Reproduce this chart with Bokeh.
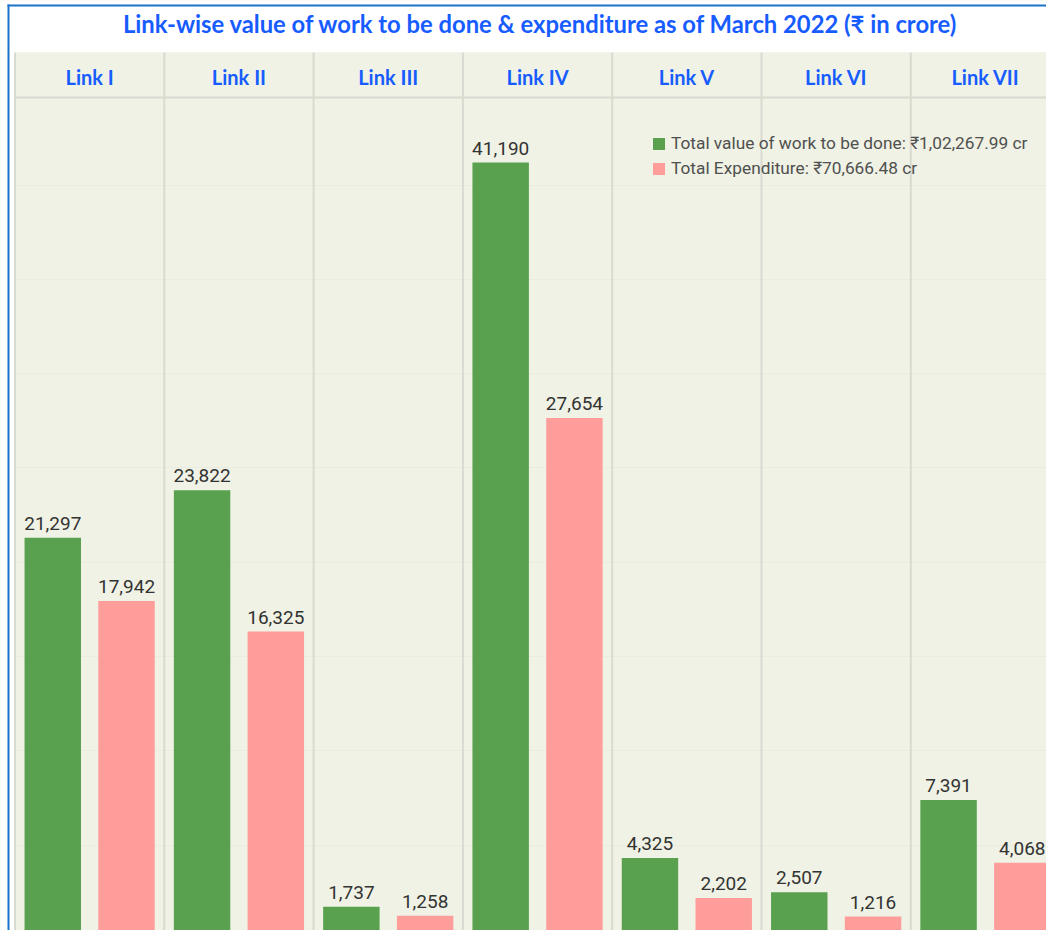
from bokeh.plotting import figure
from bokeh.models import Range1d, ColumnDataSource, Grid, SingleIntervalTicker, Legend, LegendItem
from bokeh.core.properties import value
from bokeh.embed import file_html
from bokeh.resources import INLINE

# ---------------- data ----------------
links = ["Link I", "Link II", "Link III", "Link IV", "Link V", "Link VI", "Link VII"]
work_value = [21297, 23822, 1737, 41190, 4325, 2507, 7391]
expenditure = [17942, 16325, 1258, 27654, 2202, 1216, 4068]
series_labels = ["Total value of work to be done: \u20b91,02,267.99 cr",
                 "Total Expenditure: \u20b970,666.48 cr"]
title_text = "Link-wise value of work to be done & expenditure as of March 2022 (\u20b9  in crore)"

# ---------------- style / layout ----------------
GREEN = "#59a14f"
PINK = "#ff9d9a"
BG = "#eff2e4"
BLUE_TXT = "#175cff"
BLUE_LINE = "#1a72c9"
SEP = "#d9dad1"
W, H = 1046, 930
PANEL = 149.3          # px per panel
X0 = 14.5              # px from figure left to first panel
UPP = 53.02            # value units per px
BASE = 939             # px from figure top to zero line (just below the bottom edge)
DODGE = 0.247
BAR_W = 0.378
LABEL_GAP = 14.5       # px between bar top and label anchor

p = figure(width=W, height=H, output_backend="svg", toolbar_location=None,
           title_location=None,
           x_axis_location=None, y_axis_location=None,
           x_range=Range1d(-X0 / PANEL, (W - X0) / PANEL),
           y_range=Range1d((BASE - H) * UPP, BASE * UPP),
           min_border=0, background_fill_color=BG, border_fill_color="white",
           outline_line_color=None)
p.extra_x_ranges = {"px": Range1d(0, W)}
p.extra_y_ranges = {"py": Range1d(H, 0)}
p.grid.visible = False
p.add_layout(Grid(dimension=1, ticker=SingleIntervalTicker(interval=5000),
                  grid_line_color="#e9ecdf", grid_line_width=1))

# layout bands (pixel coordinates)
p.quad(left=0, right=W, top=0, bottom=52, x_range_name="px", y_range_name="py",
       fill_color="white", line_color=None)
p.quad(left=0, right=X0, top=0, bottom=H, x_range_name="px", y_range_name="py",
       fill_color="white", line_color=None)
p.quad(left=X0, right=W, top=52, bottom=97, x_range_name="px", y_range_name="py",
       fill_color=BG, line_color=None)
p.quad(left=7, right=9, top=4, bottom=H, x_range_name="px", y_range_name="py",
       fill_color=BLUE_LINE, line_color=None)
p.quad(left=7, right=W, top=4, bottom=6, x_range_name="px", y_range_name="py",
       fill_color=BLUE_LINE, line_color=None)
p.segment(x0=X0, x1=W, y0=97, y1=97, x_range_name="px", y_range_name="py",
          line_color=SEP, line_width=2)

idx = list(range(len(links)))
p.segment(x0=idx + [len(links)], x1=idx + [len(links)], y0=52, y1=H,
          y_range_name="py", line_color=SEP, line_width=2)

# title & header
p.text(x=[543], y=[23], text=[title_text], x_range_name="px", y_range_name="py",
       text_font=value("Lato"), text_font_style="bold", text_font_size="23.8px",
       text_color=BLUE_TXT, text_align="center", text_baseline="alphabetic")
p.text(x=[i + 0.5 for i in idx], y=[76.5] * len(idx), text=links, y_range_name="py",
       text_font=value("Lato"), text_font_style="bold", text_font_size="20px",
       text_color=BLUE_TXT, text_align="center", text_baseline="alphabetic")

src = ColumnDataSource(dict(
    xg=[i + 0.5 - DODGE for i in idx],
    xp=[i + 0.5 + DODGE for i in idx],
    work=work_value, exp=expenditure,
    work_ly=[v + LABEL_GAP * UPP for v in work_value],
    exp_ly=[v + LABEL_GAP * UPP for v in expenditure],
    work_lbl=[f"{v:,}" for v in work_value],
    exp_lbl=[f"{v:,}" for v in expenditure],
))

rg = p.vbar(x="xg", top="work", bottom=0, width=BAR_W, source=src,
            fill_color=GREEN, line_color=None)
rp = p.vbar(x="xp", top="exp", bottom=0, width=BAR_W, source=src,
            fill_color=PINK, line_color=None)

for xcol, ycol, tcol in (("xg", "work_ly", "work_lbl"), ("xp", "exp_ly", "exp_lbl")):
    p.text(x=xcol, y=ycol, text=tcol, source=src,
           text_font=value("Roboto"), text_font_size="19px", text_color="#333333",
           text_align="center", text_baseline="alphabetic")

legend = Legend(items=[LegendItem(label=series_labels[0], renderers=[rg]),
                       LegendItem(label=series_labels[1], renderers=[rp])],
                location=(651, H - 178), orientation="vertical",
                glyph_width=15, glyph_height=15, label_height=15, spacing=5,
                padding=0, margin=0, label_standoff=5,
                label_text_font="Roboto", label_text_font_size="17.3px",
                label_text_color="#505050",
                background_fill_alpha=0, border_line_color=None)
p.add_layout(legend)

open("out.html", "w").write(file_html(p, INLINE))
